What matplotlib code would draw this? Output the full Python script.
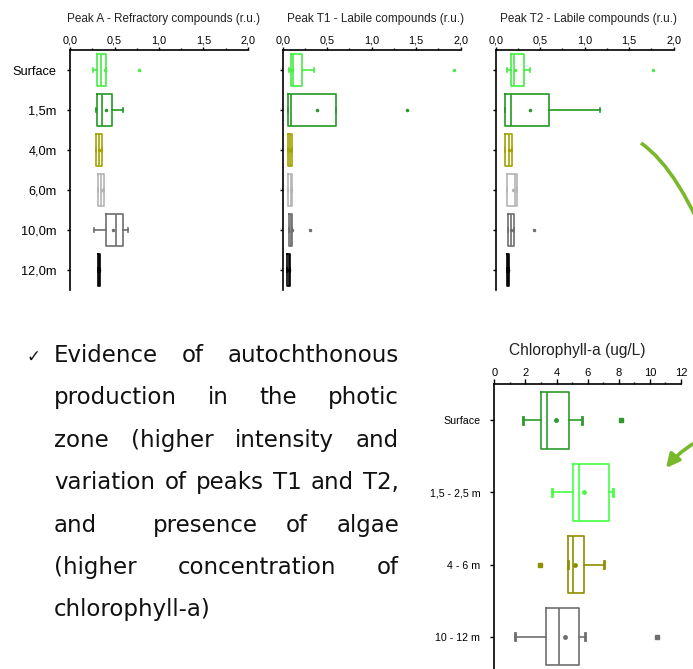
import re
import matplotlib
matplotlib.use("Agg")
import matplotlib.pyplot as plt
from matplotlib.patches import FancyArrowPatch, PathPatch
from matplotlib.path import Path

# ---------------- data ----------------
peak_depths = ["Surface", "1,5m", "4,0m", "6,0m", "10,0m", "12,0m"]
peak_ticks = [0.0, 0.5, 1.0, 1.5, 2.0]
peak_tick_labels = ["0,0", "0,5", "1,0", "1,5", "2,0"]

a_q1 = [0.30, 0.30, 0.29, 0.31, 0.40, 0.32]
a_med = [0.35, 0.36, 0.33, 0.35, 0.52, 0.33]
a_q3 = [0.40, 0.475, 0.365, 0.385, 0.60, 0.335]
a_lo = [0.255, 0.29, 0.29, 0.31, 0.27, 0.32]
a_hi = [0.40, 0.60, 0.365, 0.385, 0.65, 0.335]
a_mean = [0.39, 0.40, 0.33, 0.36, 0.48, 0.33]
a_fliers = [[0.78], [], [], [], [], []]

t1_q1 = [0.09, 0.063, 0.063, 0.063, 0.075, 0.05]
t1_med = [0.12, 0.09, 0.08, 0.09, 0.09, 0.07]
t1_q3 = [0.215, 0.60, 0.10, 0.11, 0.11, 0.085]
t1_lo = [0.07, 0.063, 0.063, 0.063, 0.075, 0.05]
t1_hi = [0.35, 0.60, 0.10, 0.11, 0.11, 0.085]
t1_mean = [0.10, 0.38, 0.08, 0.09, 0.10, 0.07]
t1_fliers = [[1.93], [1.40], [], [], [0.31], []]

t2_q1 = [0.17, 0.11, 0.11, 0.13, 0.14, 0.13]
t2_med = [0.20, 0.17, 0.145, 0.22, 0.17, 0.14]
t2_q3 = [0.315, 0.60, 0.18, 0.24, 0.20, 0.15]
t2_lo = [0.13, 0.10, 0.11, 0.13, 0.14, 0.13]
t2_hi = [0.38, 1.17, 0.18, 0.24, 0.20, 0.15]
t2_mean = [0.22, 0.38, 0.15, 0.19, 0.17, 0.14]
t2_fliers = [[1.77], [], [], [], [0.43], []]

chl_depths = ["Surface", "1,5 - 2,5 m", "4 - 6 m", "10 - 12 m"]
chl_ticks = [0, 2, 4, 6, 8, 10, 12]
chl_q1 = [2.98, 5.04, 4.76, 3.30]
chl_med = [3.37, 5.46, 5.08, 4.18]
chl_q3 = [4.82, 7.39, 5.77, 5.44]
chl_lo = [1.86, 3.69, 4.72, 1.33]
chl_hi = [5.64, 7.65, 7.07, 5.85]
chl_mean = [3.98, 5.78, 5.19, 4.52]
chl_fliers = [[8.14], [], [2.94], [10.44]]

titles = ["Peak A - Refractory compounds (r.u.)",
          "Peak T1 - Labile compounds (r.u.)",
          "Peak T2 - Labile compounds (r.u.)"]
chl_title = "Chlorophyll-a (ug/L)"

body_lines = ["Evidence of autochthonous",
              "production in the photic",
              "zone (higher intensity and",
              "variation of peaks T1 and T2,",
              "and  presence of algae",
              "(higher concentration of",
              "chlorophyll-a)"]

peak_colors = ['#44ee44', '#229922', '#a3a300', '#b4b4b4', '#6e6e6e', '#000000']
chl_colors = ['#2e9a2e', '#44ff44', '#8f8f00', '#6e6e6e']
arrow_green = '#78b82a'

# ---------------- figure ----------------
W, H = 693, 669
fig = plt.figure(figsize=(W / 100, H / 100), dpi=100)
plt.rcParams['font.family'] = ['Liberation Sans', 'DejaVu Sans']


def fx(px):
    return px / W


def fy(py):
    return 1 - py / H


def stats(q1, med, q3, lo, hi, mean, fl):
    return [dict(q1=a, med=b, q3=c, whislo=d, whishi=e, mean=f, fliers=g)
            for a, b, c, d, e, f, g in zip(q1, med, q3, lo, hi, mean, fl)]


def draw_boxes(ax, st, colors, width, capw, lw, ms, fmarker, capw_lw):
    for i, (s, c) in enumerate(zip(st, colors)):
        ax.bxp([s], positions=[i], widths=width, orientation='horizontal',
               showmeans=True, manage_ticks=False, capwidths=capw,
               boxprops=dict(color=c, lw=lw),
               medianprops=dict(color=c, lw=lw),
               whiskerprops=dict(color=c, lw=lw),
               capprops=dict(color=c, lw=capw_lw),
               meanprops=dict(marker='o', markersize=ms, markerfacecolor=c,
                              markeredgecolor=c),
               flierprops=dict(marker=fmarker, markersize=ms, markerfacecolor=c,
                               markeredgecolor=c))


def style_axis(ax, ticks, labels, minor, xlim, tick_fs, major_len, minor_len):
    ax.set_xlim(*xlim)
    for sp in ['right', 'bottom']:
        ax.spines[sp].set_visible(False)
    for sp in ['top', 'left']:
        ax.spines[sp].set_linewidth(1.2)
    ax.xaxis.tick_top()
    ax.set_xticks(ticks, labels)
    ax.set_xticks(minor, minor=True)
    ax.tick_params(axis='x', which='major', direction='out', length=major_len,
                   width=1, pad=1.0, labelsize=tick_fs)
    ax.tick_params(axis='x', which='minor', direction='out', length=minor_len,
                   width=1)


peak_sets = [
    stats(a_q1, a_med, a_q3, a_lo, a_hi, a_mean, a_fliers),
    stats(t1_q1, t1_med, t1_q3, t1_lo, t1_hi, t1_mean, t1_fliers),
    stats(t2_q1, t2_med, t2_q3, t2_lo, t2_hi, t2_mean, t2_fliers),
]
peak_left = [70, 282.7, 495.7]
peak_title_x = [164, 376, 589]
peak_minor = [0.25, 0.75, 1.25, 1.75]
for k in range(3):
    ax = fig.add_axes([fx(peak_left[k]), fy(290), 178 / W, 240 / H])
    draw_boxes(ax, peak_sets[k], peak_colors, 0.82, 0.12, 1.2, 1.5, 'o', 1.2)
    ax.set_ylim(5.5, -0.5)
    style_axis(ax, peak_ticks, peak_tick_labels, peak_minor, (0, 2), 7.8, 2.2, 1.8)
    ax.set_yticks(range(len(peak_depths)))
    if k == 0:
        ax.set_yticklabels(peak_depths)
    else:
        ax.set_yticklabels([])
    ax.tick_params(axis='y', direction='out', length=2.2, width=1, pad=7.5,
                   labelsize=9.2)
    fig.text(fx(peak_title_x[k]), fy(19), titles[k], ha='center', va='center',
             fontsize=8.5, color='#222222')

# chlorophyll panel
axc = fig.add_axes([fx(494.3), fy(672.7), 186.7 / W, 288.4 / H])
draw_boxes(axc, stats(chl_q1, chl_med, chl_q3, chl_lo, chl_hi, chl_mean, chl_fliers),
           chl_colors, 0.8, 0.1, 1.2, 2.5, 's', 2.0)
axc.set_ylim(3.5, -0.5)
style_axis(axc, chl_ticks, [str(t) for t in chl_ticks], [1, 3, 5, 7, 9, 11],
           (0, 12), 8.0, 3.6, 1.6)
axc.set_yticks(range(len(chl_depths)))
axc.set_yticklabels(chl_depths)
axc.tick_params(axis='y', direction='out', length=2.9, width=1, pad=7.2,
                labelsize=7.7)
fig.text(fx(577), fy(350), chl_title, ha='center', va='center', fontsize=11.2,
         color='#222222')

# ---------------- body text (justified) ----------------
renderer = fig.canvas.get_renderer()
body_fs = 16.5
x_left, x_right = 54, 399
base0, lstep = 362, 42.4
for li, line in enumerate(body_lines):
    parts = re.split(r'( +)', line)
    words = parts[0::2]
    gaps = [len(g) for g in parts[1::2]]
    base_y = base0 + li * lstep
    texts, widths = [], []
    for w in words:
        t = fig.text(0, 0, w, fontsize=body_fs, family='DejaVu Sans',
                     color='#111111', ha='left', va='baseline')
        texts.append(t)
        widths.append(t.get_window_extent(renderer).width)
    justify = li < len(body_lines) - 1 and len(words) > 1
    if justify:
        unit = (x_right - x_left - sum(widths)) / sum(gaps)
    else:
        sp = fig.text(0, 0, 'a a', fontsize=body_fs, family='DejaVu Sans')
        sp2 = fig.text(0, 0, 'aa', fontsize=body_fs, family='DejaVu Sans')
        unit = sp.get_window_extent(renderer).width - sp2.get_window_extent(renderer).width
        sp.remove()
        sp2.remove()
    x = x_left
    for i, t in enumerate(texts):
        t.set_position((fx(x), fy(base_y)))
        x += widths[i]
        if i < len(gaps):
            x += unit * gaps[i]

fig.text(fx(33), fy(362), "\u2713", fontsize=12, family='DejaVu Sans',
         ha='center', va='baseline', color='#111111')

# ---------------- decorative arrows ----------------
pts = [(641, 143), (680, 170), (715, 262)]
arc = PathPatch(Path([(fx(a), fy(b)) for a, b in pts],
                     [Path.MOVETO, Path.CURVE3, Path.CURVE3]),
                transform=fig.transFigure, fill=False, edgecolor=arrow_green,
                lw=2.6, capstyle='butt')
fig.add_artist(arc)
arr = FancyArrowPatch((fx(708), fy(436)), (fx(666), fy(468)),
                      transform=fig.transFigure, arrowstyle='-|>',
                      mutation_scale=20, lw=2.6, color=arrow_green,
                      connectionstyle='arc3,rad=0.12', shrinkA=0, shrinkB=0)
fig.add_artist(arr)

fig.savefig("out.png", dpi=100)
